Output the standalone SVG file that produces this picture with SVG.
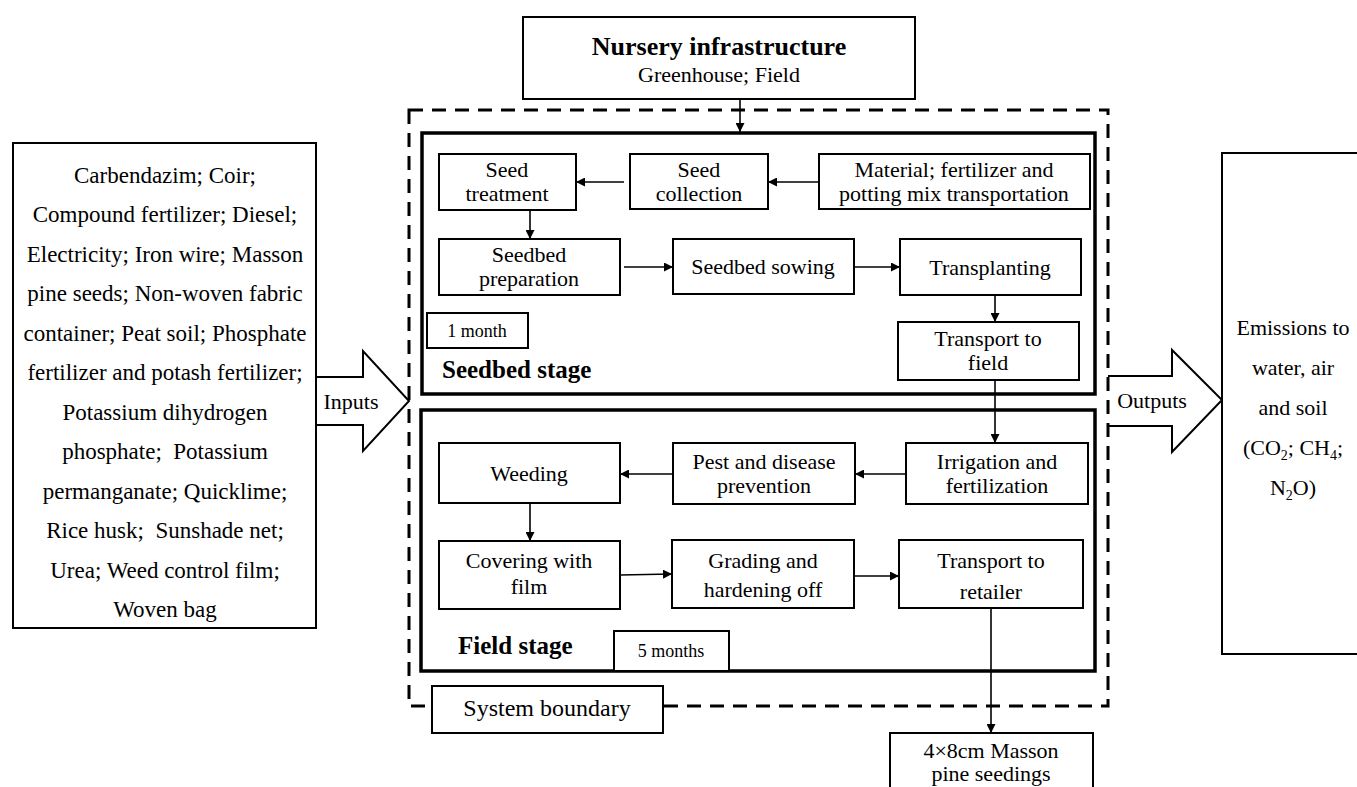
<svg xmlns="http://www.w3.org/2000/svg" width="1357" height="787" viewBox="0 0 1357 787" font-family="'Liberation Serif','Times New Roman',serif">
<style>
text{font-family:"Liberation Serif","Times New Roman",serif;fill:#000;}
.t{font-size:22px;text-anchor:middle;}
.l{font-size:23px;text-anchor:middle;}
.s{font-size:18px;text-anchor:middle;}
.b{font-size:25px;font-weight:bold;}
.box{fill:#fff;stroke:#000;stroke-width:2;}
.stage{fill:none;stroke:#000;stroke-width:3.5;}
.c{fill:none;stroke:#000;stroke-width:1.6;}
</style>
<defs>
<marker id="ah" viewBox="0 0 10 10" refX="10" refY="5" markerWidth="9" markerHeight="9" markerUnits="userSpaceOnUse" orient="auto">
<path d="M0,0 L10,5 L0,10 z" fill="#000"/>
</marker>
</defs>
<rect width="1357" height="787" fill="#fff"/>

<g id="inputs-box">
<rect class="box" x="13" y="143" width="303" height="485"/>
<text class="l" x="165" y="183">Carbendazim; Coir;</text>
<text class="l" x="165" y="222">Compound fertilizer; Diesel;</text>
<text class="l" x="165" y="262">Electricity; Iron wire; Masson</text>
<text class="l" x="165" y="301">pine seeds; Non-woven fabric</text>
<text class="l" x="165" y="341">container; Peat soil; Phosphate</text>
<text class="l" x="165" y="380">fertilizer and potash fertilizer;</text>
<text class="l" x="165" y="420">Potassium dihydrogen</text>
<text class="l" x="165" y="459" xml:space="preserve">phosphate;  Potassium</text>
<text class="l" x="165" y="499">permanganate; Quicklime;</text>
<text class="l" x="165" y="538" xml:space="preserve">Rice husk;  Sunshade net;</text>
<text class="l" x="165" y="578">Urea; Weed control film;</text>
<text class="l" x="165" y="617">Woven bag</text>
</g>

<g id="inputs-arrow">
<polygon class="box" points="316,377 363,377 363,351 409,401 363,451 363,425 316,425"/>
<text class="t" x="351" y="409">Inputs</text>
</g>

<g id="outputs-arrow">
<polygon fill="#fff" stroke="none" points="1108,376 1172,376 1172,350 1222,400 1172,452 1172,426 1108,426"/>
<polyline fill="none" stroke="#000" stroke-width="2" points="1108,376 1172,376 1172,350 1222,400 1172,452 1172,426 1108,426"/>
<text class="t" x="1152" y="408">Outputs</text>
</g>

<g id="emissions-box">
<rect class="box" x="1222" y="153" width="160" height="501"/>
<text class="t" x="1293" y="335">Emissions to</text>
<text class="t" x="1293" y="375">water, air</text>
<text class="t" x="1293" y="415">and soil</text>
<text class="t" x="1293" y="455">(CO<tspan font-size="14" dy="5">2</tspan><tspan dy="-5">; CH</tspan><tspan font-size="14" dy="5">4</tspan><tspan dy="-5">;</tspan></text>
<text class="t" x="1293" y="495">N<tspan font-size="14" dy="5">2</tspan><tspan dy="-5">O)</tspan></text>
</g>

<g id="system-boundary">
<rect x="409" y="110" width="699" height="596" fill="none" stroke="#000" stroke-width="3" stroke-dasharray="14 9"/>
</g>

<g id="nursery-infrastructure">
<rect class="box" x="523" y="17" width="392" height="82"/>
<text x="719" y="55" style="font-size:26px;font-weight:bold;text-anchor:middle">Nursery infrastructure</text>
<text class="t" x="719" y="82">Greenhouse; Field</text>
</g>

<g id="seedbed-stage">
<rect class="stage" x="422" y="133" width="673" height="261"/>
<text class="b" x="442" y="378">Seedbed stage</text>
</g>
<g id="one-month">
<rect class="box" x="427" y="313" width="101" height="35"/>
<text class="s" x="477" y="337">1 month</text>
</g>

<g id="field-stage">
<rect class="stage" x="421" y="410" width="674" height="261"/>
<text class="b" x="458" y="654">Field stage</text>
</g>
<g id="five-months">
<rect class="box" x="614" y="631" width="115" height="40"/>
<text class="s" x="671" y="657">5 months</text>
</g>

<g id="seed-treatment">
<rect class="box" x="439" y="154" width="137" height="56"/>
<text class="t" x="507" y="177">Seed</text>
<text class="t" x="507" y="201">treatment</text>
</g>
<g id="seed-collection">
<rect class="box" x="630" y="154" width="138" height="55"/>
<text class="t" x="699" y="177">Seed</text>
<text class="t" x="699" y="201">collection</text>
</g>
<g id="material-transport">
<rect class="box" x="819" y="154" width="271" height="55"/>
<text class="t" x="954" y="177">Material; fertilizer and</text>
<text class="t" x="954" y="201">potting mix transportation</text>
</g>
<g id="seedbed-preparation">
<rect class="box" x="439" y="239" width="181" height="56"/>
<text class="t" x="529" y="262">Seedbed</text>
<text class="t" x="529" y="286">preparation</text>
</g>
<g id="seedbed-sowing">
<rect class="box" x="673" y="239" width="181" height="55"/>
<text class="t" x="763" y="274">Seedbed sowing</text>
</g>
<g id="transplanting">
<rect class="box" x="900" y="239" width="181" height="56"/>
<text class="t" x="990" y="275">Transplanting</text>
</g>
<g id="transport-field">
<rect class="box" x="898" y="322" width="181" height="58"/>
<text class="t" x="988" y="346">Transport to</text>
<text class="t" x="988" y="370">field</text>
</g>

<g id="irrigation">
<rect class="box" x="906" y="443" width="182" height="61"/>
<text class="t" x="997" y="469">Irrigation and</text>
<text class="t" x="997" y="493">fertilization</text>
</g>
<g id="pest-prevention">
<rect class="box" x="673" y="443" width="182" height="61"/>
<text class="t" x="764" y="469">Pest and disease</text>
<text class="t" x="764" y="493">prevention</text>
</g>
<g id="weeding">
<rect class="box" x="439" y="443" width="181" height="60"/>
<text class="t" x="529" y="481">Weeding</text>
</g>
<g id="covering-film">
<rect class="box" x="439" y="541" width="181" height="68"/>
<text class="t" x="529" y="568">Covering with</text>
<text class="t" x="529" y="594">film</text>
</g>
<g id="grading">
<rect class="box" x="672" y="540" width="182" height="68"/>
<text class="t" x="763" y="568">Grading and</text>
<text class="t" x="763" y="597">hardening off</text>
</g>
<g id="transport-retailer">
<rect class="box" x="899" y="540" width="184" height="68"/>
<text class="t" x="991" y="568">Transport to</text>
<text class="t" x="991" y="599">retailer</text>
</g>

<g id="system-boundary-label">
<rect class="box" x="432" y="686" width="231" height="47"/>
<text x="547" y="716" style="font-size:24px;text-anchor:middle">System boundary</text>
</g>

<g id="seedings">
<rect class="box" x="890" y="733" width="203" height="70"/>
<text class="t" x="991" y="758">4×8cm Masson</text>
<text class="t" x="991" y="781">pine seedings</text>
</g>

<g id="connectors">
<line class="c" x1="740" y1="99" x2="740" y2="132" marker-end="url(#ah)"/>
<line class="c" x1="819" y1="182" x2="768" y2="182" marker-end="url(#ah)"/>
<line class="c" x1="624" y1="182" x2="576" y2="182" marker-end="url(#ah)"/>
<line class="c" x1="530" y1="210" x2="530" y2="239" marker-end="url(#ah)"/>
<line class="c" x1="624" y1="267" x2="673" y2="267" marker-end="url(#ah)"/>
<line class="c" x1="854" y1="267" x2="900" y2="267" marker-end="url(#ah)"/>
<line class="c" x1="995" y1="295" x2="995" y2="322" marker-end="url(#ah)"/>
<line class="c" x1="995" y1="380" x2="995" y2="443" marker-end="url(#ah)"/>
<line class="c" x1="906" y1="474" x2="855" y2="474" marker-end="url(#ah)"/>
<line class="c" x1="673" y1="474" x2="620" y2="474" marker-end="url(#ah)"/>
<line class="c" x1="530" y1="503" x2="530" y2="541" marker-end="url(#ah)"/>
<line class="c" x1="620" y1="575" x2="672" y2="574" marker-end="url(#ah)"/>
<line class="c" x1="854" y1="576" x2="899" y2="576" marker-end="url(#ah)"/>
<line class="c" x1="991" y1="608" x2="991" y2="733" marker-end="url(#ah)"/>
</g>
</svg>
